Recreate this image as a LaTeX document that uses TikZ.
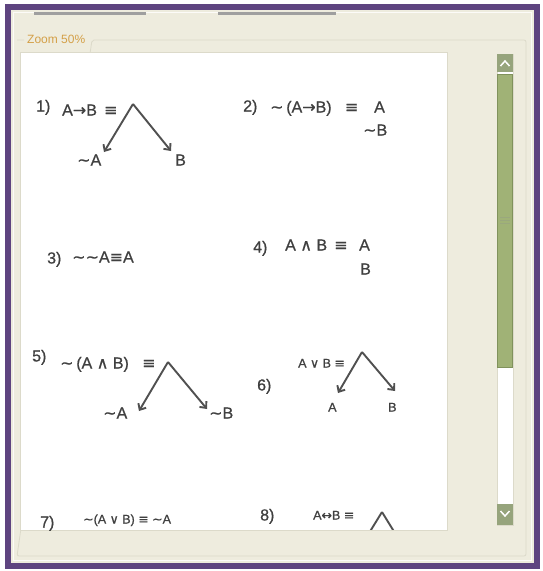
\documentclass[tikz,border=0pt]{standalone}
\usepackage{fontspec}
\setmainfont{Liberation Sans}[FakeBold=0.8]
\newfontfamily\plainf{Liberation Sans}
\newfontfamily\symf{DejaVu Sans}[FakeBold=0.6]
\usetikzlibrary{arrows.meta}
\definecolor{framep}{RGB}{94,68,128}
\definecolor{beige}{RGB}{238,236,222}
\definecolor{txtc}{RGB}{64,64,64}
\definecolor{arrc}{RGB}{80,80,80}
\definecolor{thumb}{RGB}{160,178,118}
\definecolor{thumbd}{RGB}{128,146,92}
\definecolor{btn}{RGB}{150,164,124}
\definecolor{zoomc}{RGB}{212,160,72}
\definecolor{grpc}{RGB}{220,218,202}
\newcommand\Simp{{\symf →}}
\newcommand\Seqv{{\symf ≡}}
\newcommand\Sand{{\symf ∧}}
\newcommand\Sor{{\symf ∨}}
\newcommand\Siff{{\symf ↔}}
\newcommand\Sneg{{\symf ∼}}
\begin{document}
\begin{tikzpicture}[x=1pt,y=-1pt,
  big/.style={text=txtc,font=\fontsize{16}{16}\selectfont,inner sep=0pt,anchor=west,text height=11pt,text depth=0pt},
  small/.style={text=txtc,font=\fontsize{12.5}{12.5}\selectfont,inner sep=0pt,anchor=west,text height=9pt,text depth=0pt},
  arr/.style={draw=arrc,line width=1.9pt,-{Straight Barb[length=5pt,width=9pt]}}]
\useasboundingbox (0,0) rectangle (542,571);
% window frame
\fill[white] (0,0) rectangle (542,571);
\fill[framep] (5,4) rectangle (540,569);
\fill[beige] (11,10) rectangle (534,563);
\draw[white!80!beige,line width=1pt] (13.5,12.5) rectangle (531.5,560.5);
% cut-off text at the top
\fill[gray!75] (34,12) rectangle (146,15);
\fill[gray!75] (218,12) rectangle (336,15);
% group box
\draw[grpc,line width=0.8pt,rounded corners=2pt] (17,40) -- (24,40) (92,40) -- (526,40) -- (526,556) -- (17,556) -- cycle;
\node[text=zoomc,font=\plainf\fontsize{12}{12}\selectfont,inner sep=0pt,anchor=west] (zoomlbl) at (27,39) {Zoom 50\%};
% white page
\fill[white] (20,52) rectangle (447,530);
\draw[grpc,line width=0.6pt] (20,52) rectangle (447,530);
% scrollbar
\fill[white] (497,54) rectangle (513,525);
\draw[grpc,line width=0.5pt] (497,54) rectangle (513,525);
\fill[btn] (497,54) rectangle (513,72);
\draw[white,line width=1.5pt] (500.5,66) -- (505,61) -- (509.5,66);
\fill[thumb] (497,74) rectangle (513,368);
\draw[thumbd,line width=1pt] (497.5,74.5) rectangle (512.5,367.5);
\draw[thumbd!80,line width=0.6pt] (500,217) -- (510,217) (500,220) -- (510,220) (500,223) -- (510,223);
\fill[btn] (497,504) rectangle (513,525);
\draw[white,line width=1.5pt] (500.5,511) -- (505,516) -- (509.5,511);
% 1)
\node[big] (n1) at (36,106) {1)};
\node[big] (e1) at (62,110) {A\Simp B\, \Seqv};
\node[big] (l1) at (77,160) {\Sneg A};
\node[big] (r1) at (175,160) {B};
\coordinate (ap1) at (133,104);
\coordinate (t1l) at (104,152);
\coordinate (t1r) at (171,151);
\draw[arr] (ap1) -- (t1l);
\draw[arr] (ap1) -- (t1r);
% 2)
\node[big] (n2) at (243,106) {2)};
\node[big] (e2) at (270,107) {\Sneg\,(A\Simp B)\;\; \Seqv};
\node[big] (a2) at (374,107) {A};
\node[big] (b2) at (363,130) {\Sneg B};
% 3)
\node[big] (n3) at (47,258) {3)};
\node[big] (e3) at (72,257) {\Sneg\Sneg A\Seqv A};
% 4)
\node[big] (n4) at (253,247) {4)};
\node[big] (e4) at (285,245) {A \Sand{} B\, \Seqv};
\node[big] (a4) at (359,245) {A};
\node[big] (b4) at (360,269) {B};
% 5)
\node[big] (n5) at (32,356) {5)};
\node[big] (e5) at (60,363) {\Sneg\,(A \Sand{} B)\;\; \Seqv};
\node[big] (l5) at (103,413) {\Sneg A};
\node[big] (r5) at (209,413) {\Sneg B};
\coordinate (ap5) at (168,362);
\coordinate (t5l) at (139,411);
\coordinate (t5r) at (207,409);
\draw[arr] (ap5) -- (t5l);
\draw[arr] (ap5) -- (t5r);
% 6)
\node[big] (n6) at (257,385) {6)};
\node[small] (e6) at (298,363) {A \Sor{} B \Seqv};
\node[small] (l6) at (328,407) {A};
\node[small] (r6) at (388,407) {B};
\coordinate (ap6) at (362,352);
\coordinate (t6l) at (338,393);
\coordinate (t6r) at (395,391);
\draw[arr] (ap6) -- (t6l);
\draw[arr] (ap6) -- (t6r);
% 7)
\node[big] (n7) at (40,522) {7)};
\node[small] (e7) at (83,519) {\Sneg (A \Sor{} B) \Seqv{} \Sneg A};
% 8)
\node[big] (n8) at (260,515) {8)};
\node[small] (e8) at (313,515) {A\Siff B \Seqv};
\coordinate (ap8) at (382,512);
\coordinate (t8l) at (366,538);
\coordinate (t8r) at (398,538);
\begin{scope}
\clip (20,52) rectangle (447,529.5);
\draw[draw=arrc,line width=1.9pt] (ap8) -- (t8l);
\draw[draw=arrc,line width=1.9pt] (ap8) -- (t8r);
\end{scope}
\end{tikzpicture}
\end{document}
